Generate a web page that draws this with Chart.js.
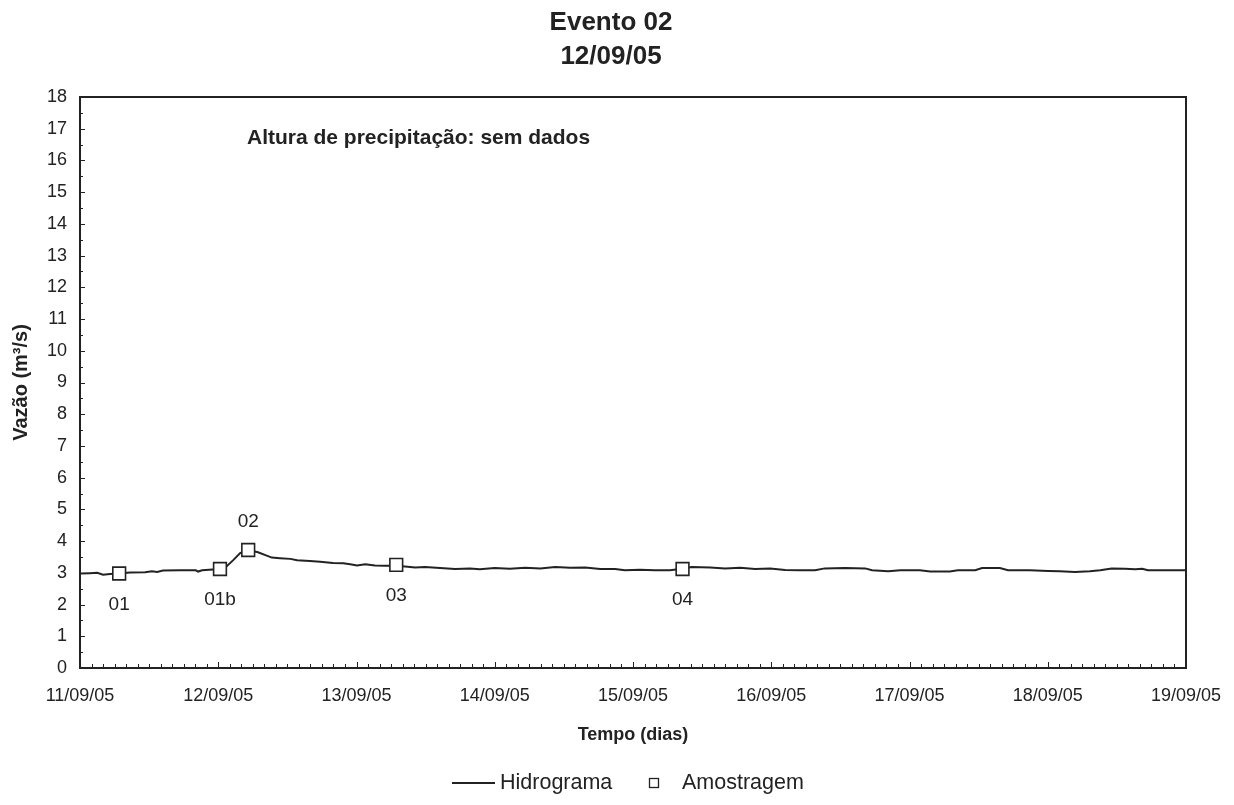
<!DOCTYPE html>
<html>
<head>
<meta charset="utf-8">
<script src="https://cdn.jsdelivr.net/npm/chart.js@4.4.1/dist/chart.umd.min.js"></script>
<style>
  body { margin: 0; background: #fff; }
  #wrap { width: 1234px; height: 805px; }
</style>
</head>
<body>
<div id="wrap"><canvas id="myChart"></canvas></div>
<script>
// hours since 11/09/05 00:00
const dayLabels = ['11/09/05', '12/09/05', '13/09/05', '14/09/05', '15/09/05',
    '16/09/05', '17/09/05', '18/09/05', '19/09/05'];

const hydroHours = [0, 1.7, 3.0, 4.0, 5.2, 6.6, 8.7, 11.3, 12.5, 13.4, 14.4, 17.4, 20.1, 20.5, 21.2,
    24.3, 25.3, 26.6, 27.8, 29.2, 30.9, 32.3, 33.3, 34.7, 36.5, 37.7, 39.9, 41.7, 43.9, 45.7,
    46.9, 48.1, 49.5, 51.2, 52.9, 54.9, 56.4, 58.2, 59.9, 62.5, 65.1, 67.7, 69.4, 72.0, 74.6,
    77.3, 79.9, 82.5, 85.1, 87.7, 90.3, 92.9, 94.6, 97.2, 99.8, 102.4, 104.2, 106.2, 109.4,
    112.0, 114.6, 117.2, 119.8, 122.4, 125.0, 127.6, 129.3, 132.8, 136.3, 137.5, 140.3, 142.4,
    145.8, 147.6, 151.0, 152.4, 155.4, 156.6, 159.7, 161.1, 164.9, 168.1, 170.1, 172.7, 175.3,
    177.1, 179.1, 181.4, 183.2, 184.4, 185.4, 188.4, 192];
const hydroFlow = [2.98, 2.99, 3.00, 2.94, 2.96, 2.98, 3.01, 3.02, 3.05, 3.03, 3.07, 3.08, 3.08, 3.04, 3.08,
    3.12, 3.18, 3.40, 3.62, 3.72, 3.65, 3.55, 3.48, 3.46, 3.44, 3.40, 3.37, 3.35, 3.31, 3.30,
    3.27, 3.23, 3.27, 3.23, 3.22, 3.22, 3.20, 3.17, 3.18, 3.15, 3.12, 3.14, 3.11, 3.15, 3.13,
    3.16, 3.14, 3.18, 3.16, 3.17, 3.12, 3.12, 3.08, 3.10, 3.08, 3.08, 3.12, 3.18, 3.17,
    3.14, 3.16, 3.12, 3.14, 3.09, 3.08, 3.08, 3.14, 3.15, 3.14, 3.08, 3.05, 3.08,
    3.08, 3.04, 3.04, 3.08, 3.08, 3.15, 3.15, 3.08, 3.08, 3.06, 3.05, 3.03, 3.05,
    3.08, 3.14, 3.13, 3.11, 3.13, 3.08, 3.08, 3.08];

const sampleHours = [6.8, 24.3, 29.2, 54.9, 104.6];
const sampleFlow = [2.98, 3.12, 3.72, 3.25, 3.12];
const sampleNames = ['01', '01b', '02', '03', '04'];
const sampleAbove = [false, false, true, false, false];

const FONT = '"Liberation Sans", Arial, sans-serif';
const INK = '#222';

const extras = {
    id: 'extras',
    afterDraw(chart) {
        const { ctx, chartArea: a, scales: { x, y } } = chart;
        ctx.save();
        ctx.strokeStyle = INK;
        ctx.fillStyle = INK;

        // small inner ticks
        ctx.lineWidth = 1;
        ctx.beginPath();
        for (let h = 0; h <= 192; h += 2) {
            const px = Math.round(x.getPixelForValue(h)) + 0.5;
            const len = h % 24 === 0 ? 6 : 4;
            ctx.moveTo(px, a.bottom);
            ctx.lineTo(px, a.bottom - len);
        }
        for (let v = 0; v <= 18; v += 0.5) {
            const py = Math.round(y.getPixelForValue(v)) + 0.5;
            const len = v % 1 === 0 ? 5 : 3;
            ctx.moveTo(a.left, py);
            ctx.lineTo(a.left + len, py);
        }
        ctx.stroke();

        // frame
        ctx.lineWidth = 2;
        ctx.strokeRect(a.left, a.top, a.right - a.left, a.bottom - a.top);

        // title
        ctx.textAlign = 'center';
        ctx.textBaseline = 'middle';
        ctx.font = 'bold 26px ' + FONT;
        ctx.fillText('Evento 02', 611, 23);
        ctx.fillText('12/09/05', 611, 57);

        // note
        ctx.textAlign = 'left';
        ctx.font = 'bold 21px ' + FONT;
        ctx.fillText('Altura de precipitação: sem dados', 247, 138);

        // sample labels
        ctx.textAlign = 'center';
        ctx.font = '19px ' + FONT;
        chart.getDatasetMeta(0).data.forEach((pt, i) => {
            ctx.fillText(sampleNames[i], pt.x, pt.y + (sampleAbove[i] ? -28 : 31));
        });

        // legend
        const ly = 783;
        ctx.lineWidth = 2;
        ctx.beginPath();
        ctx.moveTo(452, ly);
        ctx.lineTo(495, ly);
        ctx.stroke();
        ctx.textAlign = 'left';
        ctx.font = '21.5px ' + FONT;
        ctx.fillText('Hidrograma', 500, ly);
        ctx.lineWidth = 1.3;
        ctx.strokeRect(649.5, ly - 4.5, 9, 9);
        ctx.fillText('Amostragem', 682, ly);
        ctx.restore();
    }
};

const ctx = document.getElementById('myChart');
const myChart = new Chart(ctx, {
    type: 'line',
    data: {
        datasets: [{
            label: 'Amostragem',
            data: sampleHours.map((h, i) => ({ x: h, y: sampleFlow[i] })),
            showLine: false,
            pointStyle: 'rect',
            pointRadius: 9,
            pointBackgroundColor: '#fff',
            pointBorderColor: INK,
            pointBorderWidth: 1.6
        }, {
            label: 'Hidrograma',
            data: hydroHours.map((h, i) => ({ x: h, y: hydroFlow[i] })),
            borderColor: INK,
            borderWidth: 2,
            pointRadius: 0,
            tension: 0
        }]
    },
    options: {
        responsive: true,
        maintainAspectRatio: false,
        animation: false,
        layout: { padding: { top: 97, right: 48, bottom: 57, left: 0 } },
        plugins: {
            legend: { display: false },
            tooltip: { enabled: false }
        },
        scales: {
            x: {
                type: 'linear',
                min: 0,
                max: 192,
                grid: { display: false, drawTicks: false },
                border: { display: false },
                ticks: {
                    stepSize: 24,
                    padding: 17,
                    maxRotation: 0,
                    color: INK,
                    font: { family: FONT, size: 18 },
                    callback: v => dayLabels[v / 24]
                },
                title: {
                    display: true,
                    text: 'Tempo (dias)',
                    color: INK,
                    font: { family: FONT, size: 18, weight: 'bold' },
                    padding: { top: 4, bottom: 2 }
                },
                afterFit: scale => {
                    scale.height = 80;
                    scale.paddingLeft = 0;
                    scale.paddingRight = 0;
                }
            },
            y: {
                min: 0,
                max: 18,
                grid: { display: false, drawTicks: false },
                border: { display: false },
                ticks: {
                    stepSize: 1,
                    padding: 13,
                    color: INK,
                    font: { family: FONT, size: 18 }
                },
                title: {
                    display: true,
                    text: 'Vazão (m³/s)',
                    color: INK,
                    font: { family: FONT, size: 20, weight: 'bold' },
                    padding: { top: 9, bottom: 0 }
                },
                afterFit: scale => { scale.width = 80; }
            }
        }
    },
    plugins: [extras]
});
</script>
</body>
</html>
